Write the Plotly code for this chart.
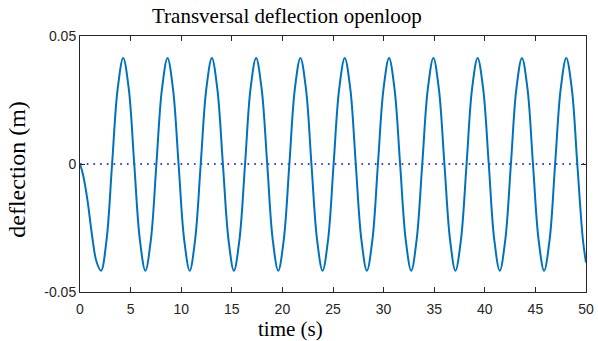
import plotly.graph_objects as go

time_s = [0.0, 0.30, 0.73, 1.22, 1.62,
          2.08, 2.63, 3.17, 3.72, 4.27, 4.82, 5.36, 5.91,
          6.46, 7.01, 7.55, 8.10, 8.65, 9.19, 9.74, 10.29,
          10.84, 11.38, 11.93, 12.48, 13.03, 13.57, 14.12, 14.67,
          15.21, 15.76, 16.31, 16.85, 17.40, 17.95, 18.50, 19.04,
          19.59, 20.14, 20.69, 21.23, 21.78, 22.33, 22.87, 23.42,
          23.97, 24.52, 25.06, 25.61, 26.16, 26.71, 27.25, 27.80,
          28.35, 28.90, 29.44, 29.99, 30.54, 31.08, 31.63, 32.18,
          32.73, 33.27, 33.82, 34.37, 34.92, 35.46, 36.01, 36.56,
          37.10, 37.65, 38.20, 38.74, 39.29, 39.84, 40.39, 40.93,
          41.48, 42.03, 42.58, 43.12, 43.67, 44.22, 44.76, 45.31,
          45.86, 46.41, 46.95, 47.50, 48.05, 48.60, 49.14, 49.69,
          50.0]

# deflection (m) at those times
deflection_m = [0.0, -0.0042, -0.0139, -0.0288, -0.0380,
                -0.0417, -0.0294, 0.0, 0.0293, 0.0414, 0.0293, 0.0, -0.0294,
                -0.0417, -0.0294, 0.0, 0.0293, 0.0414, 0.0293, 0.0, -0.0294,
                -0.0417, -0.0294, 0.0, 0.0293, 0.0414, 0.0293, 0.0, -0.0294,
                -0.0417, -0.0294, 0.0, 0.0293, 0.0414, 0.0293, 0.0, -0.0294,
                -0.0417, -0.0294, 0.0, 0.0293, 0.0414, 0.0293, 0.0, -0.0294,
                -0.0417, -0.0294, 0.0, 0.0293, 0.0414, 0.0293, 0.0, -0.0294,
                -0.0417, -0.0294, 0.0, 0.0293, 0.0414, 0.0293, 0.0, -0.0294,
                -0.0417, -0.0294, 0.0, 0.0293, 0.0414, 0.0293, 0.0, -0.0294,
                -0.0417, -0.0294, 0.0, 0.0293, 0.0414, 0.0293, 0.0, -0.0294,
                -0.0417, -0.0294, 0.0, 0.0293, 0.0414, 0.0293, 0.0, -0.0294,
                -0.0417, -0.0294, 0.0, 0.0293, 0.0414, 0.0293, 0.0, -0.0294,
                -0.0385]

ref_time = [0, 50]
ref_value = [0, 0]

x_ticks = [0, 5, 10, 15, 20, 25, 30, 35, 40, 45, 50]
y_ticks = [-0.05, 0, 0.05]
y_tick_text = ["-0.05", "0", "0.05"]

title_text = "Transversal deflection openloop"
x_title = "time (s)"
y_title = "deflection (m)"

serif = "Liberation Serif"
sans = "Liberation Sans"
axis_color = "#262626"

fig = go.Figure()
fig.add_trace(go.Scatter(x=ref_time, y=ref_value, mode="lines",
                         line=dict(color="#0000FF", width=1.5, dash="1.7px,5px"),
                         showlegend=False, hoverinfo="skip"))
fig.add_trace(go.Scatter(x=time_s, y=deflection_m, mode="lines",
                         line=dict(color="#0072BD", width=2, shape="spline", smoothing=1.0),
                         showlegend=False, hoverinfo="skip"))

fig.update_layout(
    width=598, height=341,
    margin=dict(l=80, r=12, t=36, b=49, autoexpand=False),
    paper_bgcolor="white", plot_bgcolor="white",
    hovermode=False,
    annotations=[
        dict(text=title_text, x=0.409, y=1.08, xref="paper", yref="paper",
             xanchor="center", yanchor="middle", showarrow=False,
             font=dict(family=serif, size=21, color="black")),
        dict(text=x_title, x=0.4166, y=-0.145, xref="paper", yref="paper",
             xanchor="center", yanchor="middle", showarrow=False,
             font=dict(family=serif, size=21, color="black")),
        dict(text=y_title, x=-0.125, y=0.4805, xref="paper", yref="paper",
             xanchor="center", yanchor="middle", showarrow=False, textangle=-90,
             font=dict(family=serif, size=24, color="black")),
    ],
)
fig.update_xaxes(range=[0, 50], tickvals=x_ticks, ticks="inside", ticklen=5,
                 tickcolor=axis_color, showline=True, linecolor=axis_color, linewidth=1,
                 mirror="ticks", showgrid=False, zeroline=False, automargin=False,
                 ticklabelstandoff=4,
                 tickfont=dict(family=sans, size=14, color=axis_color))
fig.update_yaxes(range=[-0.05, 0.05], tickvals=y_ticks, ticktext=y_tick_text,
                 ticks="inside", ticklen=5, tickcolor=axis_color,
                 showline=True, linecolor=axis_color, linewidth=1,
                 mirror="ticks", showgrid=False, zeroline=False, automargin=False,
                 ticklabelstandoff=0,
                 tickfont=dict(family=sans, size=14, color=axis_color))

# remove the default page margin so the 598x341 figure fills the window exactly
fig.write_html("out.html",
               config={"displayModeBar": False, "staticPlot": True},
               post_script="document.body.style.margin='0';document.body.style.overflow='hidden';")
